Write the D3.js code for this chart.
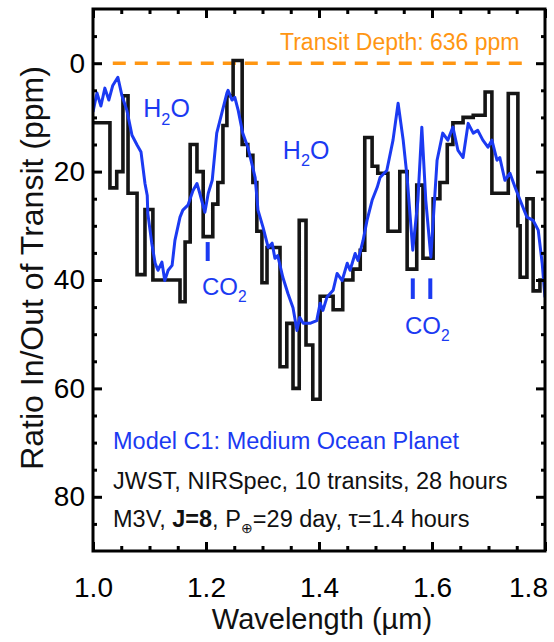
<!DOCTYPE html>
<html><head><meta charset="utf-8">
<script src="https://cdn.jsdelivr.net/npm/d3@7"></script>
<style>body{margin:0;background:#fff}svg{display:block;font-family:"Liberation Sans",Arial,Helvetica,sans-serif}</style>
</head><body><svg id="c" width="554" height="642"></svg>
<script>
// ---- data ----
const xTickValues = [1.0, 1.2, 1.4, 1.6, 1.8];
const xTickLabels = ["1.0", "1.2", "1.4", "1.6", "1.8"];
const yTickValues = [0, 20, 40, 60, 80];
const yTickLabels = ["0", "20", "40", "60", "80"];
const xMinorTicks = [1.05,1.1,1.15,1.25,1.3,1.35,1.45,1.5,1.55,1.65,1.7,1.75];
const yMinorTicks = [-5,5,10,15,25,30,35,45,50,55,65,70,75,85];

// simulated observation (step histogram): bin left edges + final right edge
const obsEdges = [1.000,1.030,1.042,1.053,1.062,1.078,1.092,1.106,1.154,1.163,1.172,1.184,1.195,1.212,1.221,1.230,1.237,1.248,1.264,1.274,1.283,1.290,1.299,1.308,1.331,1.343,1.354,1.365,1.377,1.389,1.402,1.425,1.442,1.460,1.473,1.481,1.494,1.504,1.522,1.543,1.556,1.573,1.584,1.602,1.614,1.627,1.637,1.655,1.673,1.694,1.706,1.735,1.752,1.756,1.768,1.779,1.791,1.800];
const obsValues = [11,23,20,6,24,39,27,40,44,33,15,20,32,26,22,11.5,6,-0.5,15,17,22,31,40.5,34,56,48,60,29,52,62,43,45.5,40,38,34.5,13.7,19,20.3,31,20,38,22.5,36,25,22,15,11,10,9.6,5.3,24,5.6,30,39.5,25,42,40];

// model spectrum (blue line)
const modelWave = [1.000,1.007,1.014,1.021,1.028,1.035,1.044,1.051,1.060,1.069,1.078,1.085,1.092,1.096,1.097,1.104,1.110,1.115,1.122,1.127,1.133,1.140,1.145,1.154,1.159,1.168,1.177,1.184,1.189,1.198,1.204,1.211,1.219,1.228,1.237,1.239,1.246,1.251,1.257,1.265,1.274,1.281,1.287,1.292,1.301,1.310,1.317,1.322,1.327,1.336,1.345,1.354,1.361,1.366,1.372,1.384,1.396,1.402,1.407,1.414,1.425,1.432,1.441,1.450,1.455,1.464,1.469,1.478,1.485,1.494,1.503,1.508,1.520,1.531,1.540,1.549,1.556,1.566,1.575,1.582,1.589,1.598,1.609,1.619,1.628,1.637,1.646,1.655,1.664,1.673,1.681,1.690,1.699,1.706,1.715,1.720,1.729,1.738,1.747,1.756,1.768,1.779,1.788,1.795,1.800];
const modelValues = [9.0,5.5,7.9,4.6,6.8,4.1,2.6,5.9,8.7,13.3,15.1,16.4,22.2,24.4,27.7,33.2,36.9,38.2,36.7,40.1,38.2,37.3,32.7,28.4,27.1,26.2,23.5,22.2,24.0,27.5,24.0,21.6,12.9,9.2,5.5,5.0,6.8,6.3,8.7,12.9,15.5,18.5,21.1,27.1,30.3,34.0,33.2,36.0,35.5,39.5,42.5,45.1,49.3,46.9,48.0,48.0,47.5,44.3,45.6,43.2,41.9,38.8,40.1,36.9,38.2,35.1,36.4,32.7,29.0,25.3,22.9,21.1,19.8,14.2,7.4,14.2,21.1,34.5,25.3,11.8,25.3,35.8,17.9,12.9,14.2,11.8,16.1,17.4,11.1,12.9,12.4,14.2,15.5,14.2,17.9,17.4,21.6,20.3,22.9,25.3,28.4,29.0,30.8,36.9,43.2];

// transit depth reference line (value 0), wavelength extent of the dashes
const depthLineWave = [1.035, 1.76];
const depthLineValue = 0;

// annotation anchors (data coordinates)
const h2oLabels = [{w: 1.089, v: 10.0}, {w: 1.336, v: 17.6}];
const co2Marks = [{w: 1.203, v0: 33, v1: 36.5}, {w: 1.566, v0: 39.7, v1: 43.5}, {w: 1.597, v0: 39.7, v1: 43.5}];
const co2Labels = [{w: 1.193, v: 42.8}, {w: 1.552, v: 49.9}];

// ---- drawing ----
const svg = d3.select("#c");
const L = 93, R = 545, T = 9, B = 551;
const x = d3.scaleLinear().domain([1.0, 1.8]).range([L, R]);
const y = d3.scaleLinear().domain([-10, 90]).range([T, B]);
const blue = "#1b3af2", orange = "#ff9612";

svg.append("clipPath").attr("id", "clip").append("rect")
  .attr("x", L).attr("y", T).attr("width", R - L).attr("height", B - T);

const plot = svg.append("g").attr("clip-path", "url(#clip)");

// dashed transit-depth line
plot.append("line")
  .attr("x1", x(depthLineWave[0])).attr("x2", x(depthLineWave[1]))
  .attr("y1", y(depthLineValue)).attr("y2", y(depthLineValue))
  .attr("stroke", orange).attr("stroke-width", 3.5).attr("stroke-dasharray", "13,9");

// histogram
const obsPts = obsValues.map((v, i) => [obsEdges[i], v]);
obsPts.push([obsEdges[obsEdges.length - 1], obsValues[obsValues.length - 1]]);
plot.append("path")
  .attr("d", d3.line().x(d => x(d[0])).y(d => y(d[1])).curve(d3.curveStepAfter)(obsPts))
  .attr("fill", "none").attr("stroke", "#151515").attr("stroke-width", 3.6)
  .attr("stroke-linejoin", "miter");

// model
plot.append("path")
  .attr("d", d3.line().x((d, i) => x(modelWave[i])).y(d => y(d))(modelValues))
  .attr("fill", "none").attr("stroke", blue).attr("stroke-width", 3)
  .attr("stroke-linejoin", "round");

// axes (inward ticks)
function styleAxis(g) {
  g.select(".domain").remove();
  g.selectAll(".tick line").attr("stroke", "#000").attr("stroke-width", 3);
  g.selectAll(".tick text").attr("fill", "#000").attr("font-size", 28)
    .attr("font-family", "Liberation Sans, Arial, sans-serif");
}
svg.append("g").attr("transform", `translate(0,${B})`)
  .call(d3.axisBottom(x).tickValues(xTickValues).tickFormat((d, i) => xTickLabels[i]).tickSize(-9).tickPadding(26))
  .call(styleAxis)
  .call(g => g.selectAll(".tick text").filter((d, i) => i === xTickValues.length - 1).attr("dx", -17));
svg.append("g").attr("transform", `translate(0,${B})`)
  .call(d3.axisBottom(x).tickValues(xMinorTicks).tickFormat("").tickSize(-5)).call(styleAxis);
svg.append("g").attr("transform", `translate(0,${T})`)
  .call(d3.axisTop(x).tickValues(xTickValues).tickFormat("").tickSize(-9)).call(styleAxis);
svg.append("g").attr("transform", `translate(0,${T})`)
  .call(d3.axisTop(x).tickValues(xMinorTicks).tickFormat("").tickSize(-5)).call(styleAxis);
svg.append("g").attr("transform", `translate(${L},0)`)
  .call(d3.axisLeft(y).tickValues(yTickValues).tickFormat((d, i) => yTickLabels[i]).tickSize(-9).tickPadding(8))
  .call(styleAxis);
svg.append("g").attr("transform", `translate(${L},0)`)
  .call(d3.axisLeft(y).tickValues(yMinorTicks).tickFormat("").tickSize(-4)).call(styleAxis);
svg.append("g").attr("transform", `translate(${R},0)`)
  .call(d3.axisRight(y).tickValues(yTickValues).tickFormat("").tickSize(-9)).call(styleAxis);
svg.append("g").attr("transform", `translate(${R},0)`)
  .call(d3.axisRight(y).tickValues(yMinorTicks).tickFormat("").tickSize(-4)).call(styleAxis);

// frame
svg.append("rect").attr("x", L).attr("y", T).attr("width", R - L).attr("height", B - T)
  .attr("fill", "none").attr("stroke", "#000").attr("stroke-width", 3);

// axis titles
svg.append("text").attr("x", 322).attr("y", 629).attr("text-anchor", "middle")
  .attr("font-size", 29).attr("fill", "#111").text("Wavelength (\u00b5m)");
svg.append("text").attr("transform", "translate(43,268) rotate(-90)").attr("text-anchor", "middle")
  .attr("font-size", 32).attr("fill", "#111").text("Ratio In/Out of Transit (ppm)");

// transit depth label
svg.append("text").attr("x", 280).attr("y", 50).attr("font-size", 23).attr("fill", orange)
  .text("Transit Depth: 636 ppm");

// molecule labels
function chem(g, px, py, main, sub, tail, size) {
  const t = g.append("text").attr("x", px).attr("y", py).attr("font-size", size).attr("fill", blue);
  t.append("tspan").text(main);
  t.append("tspan").attr("font-size", size * 0.65).attr("dy", size * 0.3).text(sub);
  t.append("tspan").attr("dy", -size * 0.3).text(tail);
}
h2oLabels.forEach(d => chem(svg, x(d.w), y(d.v), "H", "2", "O", 25));
co2Labels.forEach(d => chem(svg, x(d.w), y(d.v), "CO", "2", "", 24));
svg.selectAll(".co2mark").data(co2Marks).join("line")
  .attr("x1", d => x(d.w)).attr("x2", d => x(d.w))
  .attr("y1", d => y(d.v0)).attr("y2", d => y(d.v1))
  .attr("stroke", blue).attr("stroke-width", 4);

// info block
svg.append("text").attr("x", 113).attr("y", 449).attr("font-size", 23.5).attr("fill", blue)
  .text("Model C1: Medium Ocean Planet");
svg.append("text").attr("x", 113).attr("y", 489).attr("font-size", 23.5).attr("fill", "#111")
  .text("JWST, NIRSpec, 10 transits, 28 hours");
const l3 = svg.append("text").attr("x", 113).attr("y", 527).attr("font-size", 23.5).attr("fill", "#111");
l3.append("tspan").text("M3V, ");
l3.append("tspan").attr("font-weight", "bold").text("J=8");
l3.append("tspan").text(", P");
l3.append("tspan").attr("font-size", 14).attr("dy", 6).text("\u2295");
l3.append("tspan").attr("dy", -6).text("=29 day, \u03c4=1.4 hours");
</script></body></html>
